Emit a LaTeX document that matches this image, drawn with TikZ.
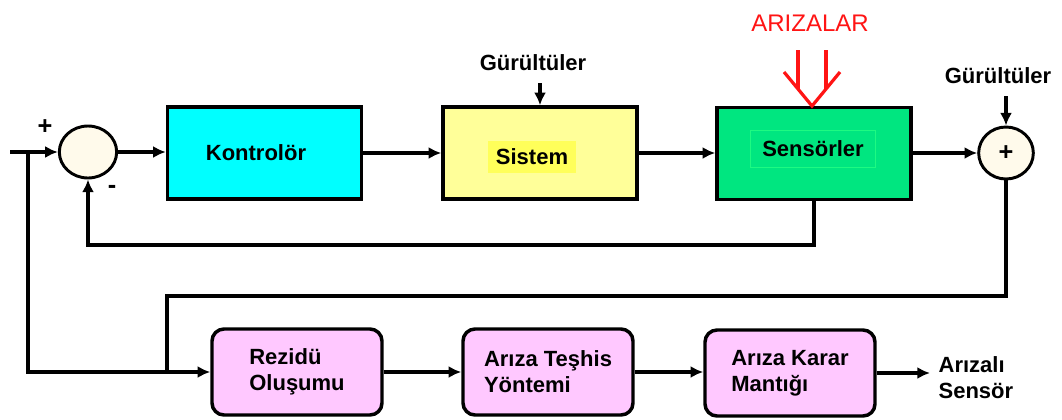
\documentclass[tikz,border=0pt]{standalone}
\usepackage{fontspec}
\setmainfont{Liberation Sans}
\usetikzlibrary{arrows.meta,shapes.geometric}
\definecolor{cyanbox}{RGB}{0,255,255}
\definecolor{yelbox}{RGB}{255,255,153}
\definecolor{yelhl}{RGB}{255,255,90}
\definecolor{grnbox}{RGB}{0,230,128}
\definecolor{grnframe}{RGB}{30,250,130}
\definecolor{pinkbox}{RGB}{255,200,255}
\definecolor{cream}{RGB}{255,250,235}
\definecolor{redarr}{RGB}{255,20,20}
\begin{document}
\begin{tikzpicture}[x=0.75pt,y=-0.75pt,
  box/.style={draw=black, line width=2.6pt, minimum width=145.5pt, minimum height=69pt, inner sep=0pt},
  pbox/.style={draw=black, fill=pinkbox, rounded corners=9pt, line width=2.6pt, minimum width=127.5pt, minimum height=64.5pt, align=left, font=\bfseries\fontsize{16.5}{19.5}\selectfont},
  lbl/.style={font=\bfseries\fontsize{16.5}{19.5}\selectfont, inner sep=1pt},
  sumj/.style={ellipse, draw=black, fill=cream, line width=2.2pt, minimum width=43pt, minimum height=39pt, inner sep=0pt},
  arr/.style={line width=3pt, -{Latex[length=9.5pt,width=9pt]}},
  ln/.style={line width=3pt},
  redln/.style={draw=redarr, line width=2.4pt}]
\useasboundingbox (0,0) rectangle (1062,419);
\fill[white] (0,0) rectangle (1062,419);

% top row
\node[sumj] (c1) at (88,152) {};
\node[box, fill=cyanbox] (kon) at (264.5,153) {};
\node[lbl] (konl) at (256,153) {Kontrolör};
\node[box, fill=yelbox] (sis) at (540,153) {};
\node[lbl, fill=yelhl, minimum width=66pt, minimum height=24pt] (sisl) at (532,157) {Sistem};
\node[box, fill=grnbox] (sen) at (814,153.5) {};
\node[lbl, draw=grnframe, line width=0.6pt, minimum width=94pt, minimum height=28pt] (senl) at (813,149) {Sensörler};
\node[sumj, minimum width=41pt] (c2) at (1006,153) {};
\node[lbl, font=\bfseries\fontsize{19}{20}\selectfont] (plus2) at (1006,153) {+};

% signs
\node[lbl, font=\bfseries\fontsize{19}{20}\selectfont] (plus1) at (45,127) {+};
\node[lbl, font=\bfseries\fontsize{19}{20}\selectfont] (minus1) at (112,189) {-};

% noise labels
\node[lbl] (gur1) at (533,63) {Gürültüler};
\coordinate (n1) at (540,83);
\node[lbl] (gur2) at (998,76) {Gürültüler};
\coordinate (n2) at (1006,96);

% faults
\node[font=\fontsize{18}{20}\selectfont, text=redarr, inner sep=1pt] (ariza) at (810,23) {ARIZALAR};
\draw[redln, line join=miter] (784,72) -- (812,106) -- (840,72);
\draw[redln] (798,50) -- (798,89);
\draw[redln] (826,50) -- (826,89);

% bottom row
\node[pbox] (rez) at (297,372) {Rezidü\\Oluşumu};
\node[pbox] (tes) at (548,372) {Arıza Teşhis\\Yöntemi};
\node[pbox] (kar) at (790,373) {Arıza Karar\\Mantığı};
\node[lbl, align=left, anchor=west] (out) at (937,378) {Arızalı\\Sensör};
\coordinate (outend) at (930,373);

% connectors top
\coordinate (in) at (10,152);
\coordinate (br1) at (28,152);
\draw[arr] (in) -- (c1.west);
\draw[arr] (c1.east) -- (kon.west |- c1.east);
\draw[arr] (kon.east) -- (sis.west);
\draw[arr] (sis.east) -- (sen.west |- sis.east);
\draw[arr] (sen.east |- c2.west) -- (c2.west);
\draw[arr, line width=2.4pt] (n1) -- (sis.north);
\draw[arr, line width=2.4pt] (n2) -- (c2.north);
\draw[arr] (sen.south) -- (814,245) -| (c1.south);

% connectors bottom
\coordinate (br2) at (167,296);
\draw[ln] (c2.south) |- (br2) -- (br2 |- rez.west);
\draw[arr] (br1) |- (rez.west);
\draw[arr] (rez.east) -- (tes.west);
\draw[arr] (tes.east) -- (kar.west |- tes.east);
\draw[arr] (kar.east) -- (outend);
\end{tikzpicture}
\end{document}
